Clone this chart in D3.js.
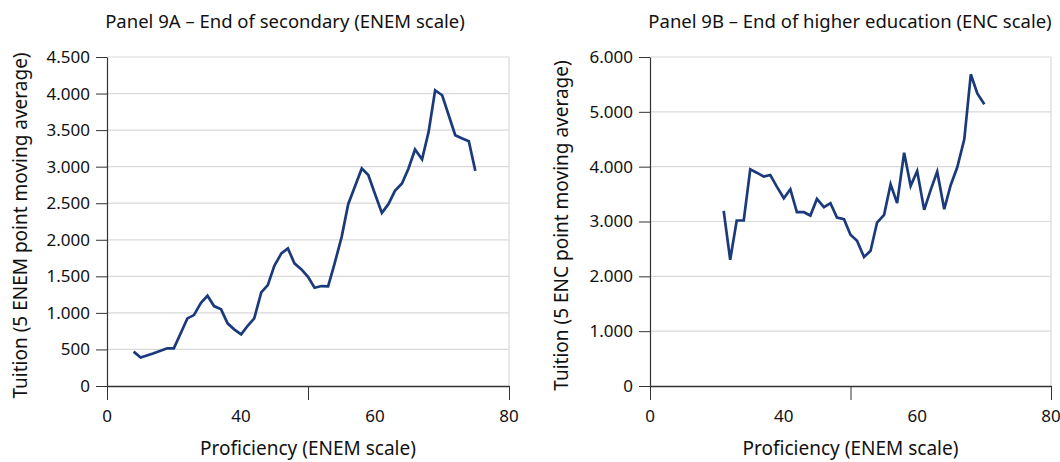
<!DOCTYPE html>
<html>
<head>
<meta charset="utf-8">
<script src="https://cdn.jsdelivr.net/npm/d3@7"></script>
<style>
  html, body { margin: 0; padding: 0; background: #fff; }
  svg { display: block; font-family: "Noto Sans", "Open Sans", sans-serif; }
</style>
</head>
<body>
<svg id="chart" width="1060" height="462"></svg>
<script>
// Panel 9A: end of secondary, ENEM proficiency vs tuition (5-point moving average)
const enemProficiency = [5.3, 6.7, 9.3, 12.0, 13.3, 16.0, 17.3, 18.7, 20.0, 21.3, 22.7, 24.0, 25.3,
  26.7, 28.0, 29.3, 30.7, 32.0, 33.3, 34.7, 36.0, 37.3, 38.7, 40.0, 41.3, 42.7, 44.0, 45.3, 46.7,
  48.0, 49.3, 50.7, 52.0, 53.3, 54.7, 56.0, 57.3, 58.7, 60.0, 61.3, 62.7, 64.0, 65.3, 66.7, 68.0,
  69.3, 70.7, 72.0, 73.3];
const enemTuition = [470, 390, 447, 515, 515, 925, 970, 1138, 1234, 1093, 1048, 857, 775,
  706, 824, 925, 1280, 1380, 1644, 1813, 1882, 1677, 1595, 1494, 1343, 1367, 1362, 1677, 2040,
  2487, 2723, 2975, 2887, 2633, 2368, 2487, 2669, 2770, 2975, 3235, 3102, 3475, 4045, 3977, 3703,
  3430, 3385, 3348, 2942];

// Panel 9B: end of higher education, ENC proficiency vs tuition
const encProficiency = [14.7, 16.0, 17.3, 18.7, 20.0, 21.3, 22.7, 24.0, 25.3, 26.7, 28.0, 29.3,
  30.7, 32.0, 33.3, 34.7, 36.0, 37.3, 38.7, 40.0, 41.3, 42.7, 44.0, 45.3, 46.7, 48.0, 49.3, 50.7,
  52.0, 53.3, 54.7, 56.0, 57.3, 58.7, 60.0, 61.3, 62.7, 64.0, 65.3, 66.7];
const encTuition = [3194, 2303, 3018, 3018, 3952, 3890, 3818, 3848, 3636, 3425, 3589, 3170,
  3170, 3109, 3412, 3261, 3334, 3072, 3043, 2758, 2649, 2352, 2467, 2981, 3121, 3680, 3334, 4254,
  3649, 3921, 3212, 3576, 3909, 3225, 3667, 3989, 4498, 5685, 5334, 5140];

// Axis labels
const xTickLabels = ["0", "40", "60", "80"];
const xTickMarks = [0, 40, 80];
const yTicksA = [0, 500, 1000, 1500, 2000, 2500, 3000, 3500, 4000, 4500];
const yTicksB = [0, 1000, 2000, 3000, 4000, 5000, 6000];

const locale = d3.formatLocale({ decimal: ",", thousands: ".", grouping: [3], currency: ["", ""] });
const fmt = locale.format(",d");

const svg = d3.select("#chart");
const lineColor = "#1b3a7c";
const gridColor = "#d9d9d9";
const axisColor = "#333";

function panel(opts) {
  const { left, right, top, bottom, xs, ys, yMax, yTicks, title, titleX, titleY, yTitle, yTitleX } = opts;
  const g = svg.append("g");
  const x = d3.scaleLinear().domain([0, 80]).range([left, right]);
  const y = d3.scaleLinear().domain([0, yMax]).range([bottom, top]);

  // gridlines
  g.append("g").selectAll("line").data(yTicks.filter(d => d > 0)).join("line")
    .attr("x1", left).attr("x2", right)
    .attr("y1", d => y(d)).attr("y2", d => y(d))
    .attr("stroke", gridColor).attr("stroke-width", 1.2);
  // right frame
  g.append("line").attr("x1", right).attr("x2", right).attr("y1", top).attr("y2", bottom)
    .attr("stroke", gridColor).attr("stroke-width", 1.2);

  // y axis
  const yAxis = g.append("g").attr("transform", `translate(${left},0)`)
    .call(d3.axisLeft(y).tickValues(yTicks).tickFormat(fmt).tickSize(11).tickPadding(6).tickSizeOuter(0));
  yAxis.select(".domain").attr("stroke", axisColor).attr("stroke-width", 1.2);
  yAxis.selectAll(".tick line").attr("stroke", axisColor).attr("stroke-width", 1);
  yAxis.selectAll("text").attr("font-size", 17).attr("fill", "#111")
    .attr("font-family", "'Noto Sans', sans-serif");

  // x axis: tick marks on the linear scale, labels spread evenly
  const xAxis = g.append("g").attr("transform", `translate(0,${bottom})`)
    .call(d3.axisBottom(x).tickValues(xTickMarks).tickFormat("").tickSize(14).tickSizeOuter(0));
  xAxis.select(".domain").attr("stroke", axisColor).attr("stroke-width", 1.5);
  xAxis.selectAll(".tick line").attr("stroke", axisColor).attr("stroke-width", 1);
  const xl = d3.scalePoint().domain(xTickLabels).range([left, right]);
  g.append("g").selectAll("text").data(xTickLabels).join("text")
    .attr("x", d => xl(d)).attr("y", bottom + 36)
    .attr("text-anchor", "middle").attr("font-size", 17).attr("fill", "#111")
    .text(d => d);

  // axis titles
  g.append("text").attr("x", (left + right) / 2).attr("y", bottom + 69)
    .attr("text-anchor", "middle").attr("font-size", 19).attr("fill", "#111")
    .text("Proficiency (ENEM scale)");
  g.append("text").attr("transform", `translate(${yTitleX},${(top + bottom) / 2 + 4}) rotate(-90)`)
    .attr("text-anchor", "middle").attr("font-size", 19).attr("fill", "#111")
    .text(yTitle);

  // panel title
  g.append("text").attr("x", titleX).attr("y", titleY)
    .attr("text-anchor", "middle").attr("font-size", 18.5).attr("fill", "#111")
    .text(title);

  // data line
  const pts = xs.map((v, i) => [v, ys[i]]);
  g.append("path").datum(pts)
    .attr("fill", "none").attr("stroke", lineColor).attr("stroke-width", 2.7)
    .attr("stroke-linejoin", "miter")
    .attr("d", d3.line().x(d => x(d[0])).y(d => y(d[1])));
}

panel({
  left: 107, right: 509, top: 57, bottom: 386,
  xs: enemProficiency, ys: enemTuition, yMax: 4500, yTicks: yTicksA,
  title: "Panel 9A – End of secondary (ENEM scale)", titleX: 285, titleY: 28,
  yTitle: "Tuition (5 ENEM point moving average)", yTitleX: 27
});

panel({
  left: 650, right: 1051, top: 57, bottom: 386,
  xs: encProficiency, ys: encTuition, yMax: 6000, yTicks: yTicksB,
  title: "Panel 9B – End of higher education (ENC scale)", titleX: 850, titleY: 28,
  yTitle: "Tuition (5 ENC point moving average)", yTitleX: 568
});
</script>
</body>
</html>
